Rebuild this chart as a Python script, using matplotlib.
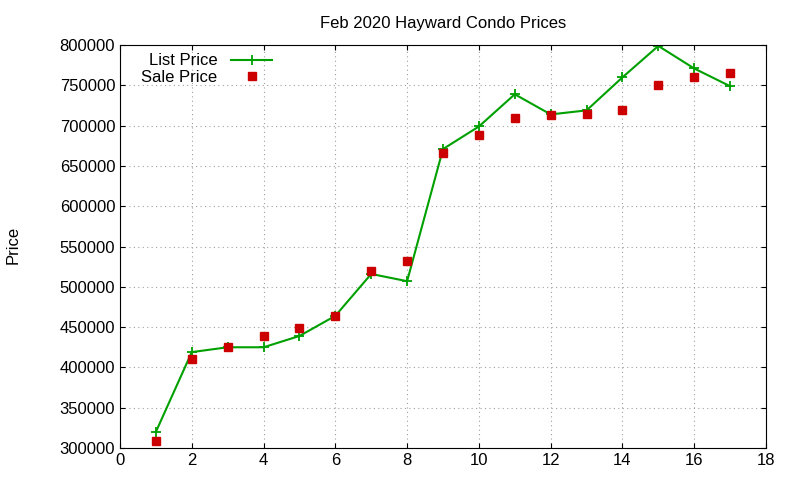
import matplotlib
matplotlib.use("Agg")
import matplotlib.pyplot as plt

plt.rcParams["font.family"] = ["Liberation Sans", "DejaVu Sans"]

days = list(range(1, 18))
list_price = [320000, 419000, 425000, 425000, 439000, 464000, 516000, 507000,
              671000, 699000, 739000, 714000, 719000, 760000, 799000, 771000, 749000]
sale_price = [309000, 410000, 425000, 439000, 449000, 464000, 520000, 532000,
              666000, 688000, 709000, 713000, 714000, 719000, 750000, 760000, 765000]

fig = plt.figure(figsize=(8, 4.8), dpi=100)
ax = fig.add_axes([0.15, 0.0667, 0.8075, 0.8393])

ax.plot(days, list_price, color="#00a000", marker="+", markersize=7,
        markeredgewidth=1.3, linewidth=1.5, label="List Price")
ax.plot(days, sale_price, color="#cc0000", marker="s", markersize=5.5,
        linestyle="none", label="Sale Price")

ax.set_xlim(0, 18)
ax.set_ylim(300000, 800000)
ax.set_xticks(range(0, 19, 2))
ax.set_yticks(range(300000, 800001, 50000))
ax.tick_params(direction="in", top=True, right=True, labelsize=12)
ax.grid(True, color="#a0a0a0", linestyle=(0, (1, 3)), linewidth=0.8)
fig.text(0.016, 0.49, "Price", rotation=90, ha="center", va="center", fontsize=12)
ax.set_title("Feb 2020 Hayward Condo Prices", fontsize=12, pad=12)
ax.legend(loc="upper left", markerfirst=False, frameon=False, fontsize=12,
          borderaxespad=0.1, handlelength=2.5, labelspacing=0.1,
          bbox_to_anchor=(0.02, 1.0))

fig.savefig("out.png", dpi=100)
